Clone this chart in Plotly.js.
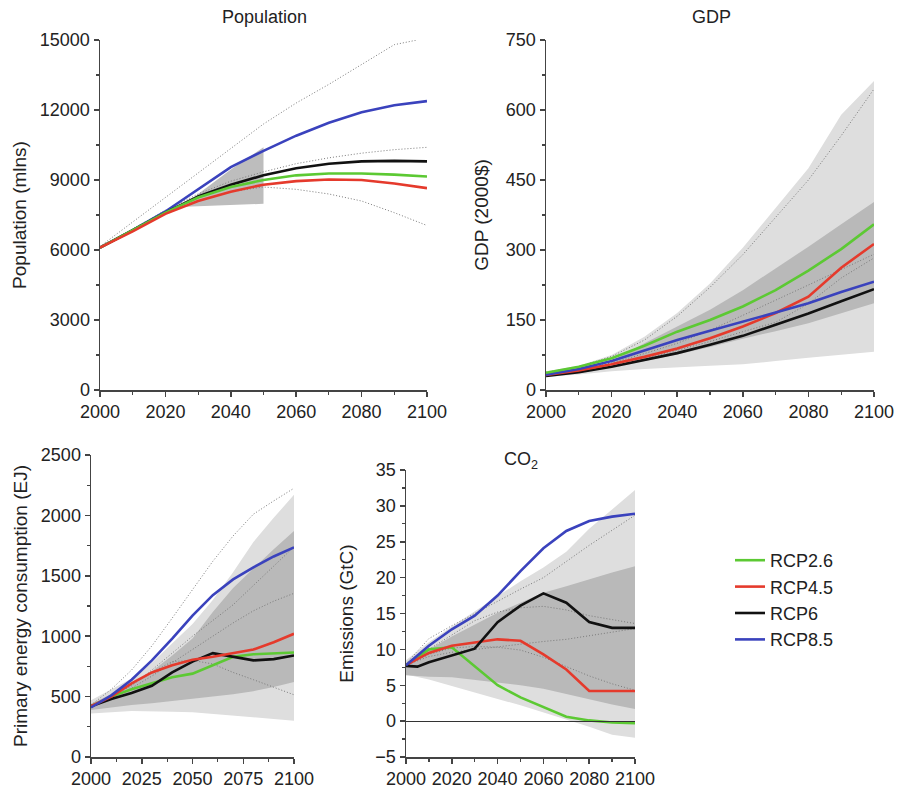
<!DOCTYPE html>
<html>
<head>
<meta charset="utf-8">
<script src="https://cdn.plot.ly/plotly-3.0.1.min.js"></script>
<style>
  html, body { margin: 0; padding: 0; background: #fff; }
  #chart { width: 899px; height: 789px; }
</style>
</head>
<body>
<div id="chart"></div>
<script>
// ---------------- DATA ----------------
const years = [2000, 2010, 2020, 2030, 2040, 2050, 2060, 2070, 2080, 2090, 2100];
const scenarioNames = ["RCP2.6", "RCP4.5", "RCP6", "RCP8.5"];

// Population (millions)
const pop26 = [6100, 6850, 7600, 8250, 8700, 9000, 9200, 9280, 9280, 9230, 9150];
const pop45 = [6100, 6800, 7550, 8100, 8500, 8800, 8950, 9020, 9000, 8850, 8650];
const pop60 = [6100, 6850, 7600, 8300, 8800, 9200, 9500, 9700, 9800, 9820, 9800];
const pop85 = [6100, 6850, 7650, 8600, 9550, 10250, 10900, 11450, 11900, 12200, 12380];
const popHighYears = [2000, 2010, 2020, 2030, 2040, 2050, 2060, 2070, 2080, 2090, 2097];
const popHigh = [6150, 7200, 8250, 9300, 10350, 11400, 12300, 13100, 13950, 14800, 15000];
const popMidHigh = [6100, 6900, 7700, 8400, 8950, 9350, 9700, 9950, 10150, 10300, 10400];
const popLow = [6100, 6850, 7550, 8100, 8500, 8700, 8600, 8400, 8100, 7600, 7050];
const popBandYears = [2026, 2030, 2040, 2050];
const popBandUpper = [7850, 8400, 9450, 10400];
const popBandLower = [7850, 7870, 7930, 7980];

// GDP (2000$)
const gdp26 = [37, 50, 68, 95, 125, 150, 179, 214, 256, 302, 355];
const gdp45 = [32, 42, 55, 71, 89, 111, 136, 165, 200, 262, 313];
const gdp60 = [30, 38, 50, 64, 79, 97, 116, 140, 164, 190, 216];
const gdp85 = [33, 45, 62, 84, 107, 127, 146, 166, 186, 210, 232];
const gdpLightUpper = [40, 52, 75, 114, 165, 228, 305, 390, 475, 590, 662];
const gdpLightLower = [28, 33, 40, 45, 49, 52, 55, 62, 69, 76, 82];
const gdpDarkYears = [2020, 2030, 2040, 2050, 2060, 2070, 2080, 2090, 2100];
const gdpDarkUpper = [62, 100, 136, 172, 214, 260, 307, 355, 403];
const gdpDarkLower = [52, 62, 76, 92, 110, 126, 143, 165, 186];
const gdpDotTop = [38, 50, 72, 107, 158, 220, 290, 370, 450, 545, 645];
const gdpDotA = [33, 44, 58, 78, 100, 128, 160, 192, 225, 258, 291];
const gdpDotB = [31, 40, 52, 67, 85, 104, 125, 145, 185, 240, 283];

// Primary energy consumption (EJ)
const en26 = [420, 500, 560, 610, 660, 690, 760, 830, 850, 860, 865];
const en45 = [420, 500, 610, 700, 760, 805, 830, 860, 890, 950, 1020];
const en60 = [420, 480, 530, 590, 700, 790, 860, 830, 800, 810, 840];
const en85 = [410, 510, 640, 800, 980, 1170, 1340, 1470, 1570, 1660, 1735];
const enLightUpper = [470, 560, 650, 780, 940, 1100, 1300, 1530, 1780, 1980, 2170];
const enLightLower = [360, 370, 380, 380, 375, 370, 360, 345, 330, 315, 300];
const enDarkUpper = [440, 520, 600, 710, 840, 980, 1200, 1400, 1560, 1720, 1870];
const enDarkLower = [390, 410, 430, 445, 460, 480, 500, 520, 545, 580, 620];
const enDot1 = [430, 560, 720, 920, 1150, 1390, 1620, 1830, 2010, 2120, 2225];
const enDot2 = [420, 500, 590, 720, 860, 1000, 1130, 1260, 1420, 1580, 1740];
const enDot3 = [420, 490, 570, 670, 780, 890, 1000, 1110, 1210, 1290, 1355];
const enDot4 = [420, 500, 600, 700, 790, 800, 770, 700, 640, 580, 515];

// CO2 emissions (GtC)
const co2Years60 = [2000, 2005, 2010, 2020, 2030, 2040, 2050, 2060, 2070, 2080, 2090, 2100];
const co2_26 = [7.8, 10.0, 10.3, 7.7, 5.0, 3.3, 1.9, 0.6, 0.1, -0.2, -0.3];
const co2_45 = [7.8, 9.5, 10.5, 11.0, 11.4, 11.2, 9.3, 7.2, 4.2, 4.2, 4.2];
const co2_60 = [7.7, 7.6, 8.2, 9.1, 10.1, 13.8, 16.1, 17.8, 16.5, 13.8, 13.0, 13.0];
const co2_85 = [7.8, 10.5, 12.8, 14.7, 17.5, 20.9, 24.1, 26.5, 27.9, 28.5, 28.9];
const co2LightUpper = [8.5, 11.0, 13.2, 15.3, 17.4, 19.5, 21.4, 23.6, 26.8, 29.5, 32.2];
const co2LightLower = [6.5, 5.8, 5.0, 4.0, 3.1, 2.2, 1.3, 0.2, -0.8, -1.9, -2.3];
const co2DarkUpper = [8.0, 10.0, 11.8, 13.5, 15.1, 16.5, 17.9, 18.8, 19.8, 20.7, 21.6];
const co2DarkLower = [6.4, 6.2, 6.1, 5.8, 5.4, 5.0, 4.5, 3.8, 3.0, 2.3, 1.7];
const co2DotA = [8.0, 11.5, 13.3, 15.0, 16.8, 18.4, 20.0, 22.3, 24.5, 26.6, 28.7];
const co2DotB = [8.0, 10.0, 12.0, 14.0, 15.2, 15.8, 16.0, 15.5, 14.7, 14.1, 13.6];
const co2DotC = [7.8, 9.0, 9.6, 10.0, 10.4, 10.8, 11.1, 11.4, 11.9, 12.4, 12.9];
const co2DotD = [7.8, 9.3, 10.2, 10.4, 10.3, 9.9, 8.9, 7.6, 6.3, 5.2, 4.3];

// ---------------- STYLE ----------------
const colors = {"RCP2.6": "#5cc933", "RCP4.5": "#e53a2c", "RCP6": "#111111", "RCP8.5": "#3a42bd"};
const LIGHT = "#dedede", DARK = "#b9b9b9", POPBAND = "#bdbdbd";
const FONT = "Liberation Sans, Arial, Helvetica, sans-serif";
const W = 899, H = 789;

function band(x, lo, hi, color, n) {
  return {
    x: x.concat(x.slice().reverse()),
    y: hi.concat(lo.slice().reverse()),
    xaxis: "x" + n, yaxis: "y" + n,
    type: "scatter", mode: "lines", fill: "toself", fillcolor: color,
    line: {width: 0, color: color}, hoverinfo: "skip", showlegend: false
  };
}
function dotted(x, y, n) {
  return {x: x, y: y, xaxis: "x" + n, yaxis: "y" + n, type: "scatter", mode: "lines",
    line: {color: "#7a7a7a", width: 1, dash: "1px,2px"}, hoverinfo: "skip", showlegend: false};
}
function series(x, y, name, n, legend) {
  return {x: x, y: y, xaxis: "x" + n, yaxis: "y" + n, type: "scatter", mode: "lines",
    name: name, line: {color: colors[name], width: 2.6}, showlegend: !!legend};
}

const traces = [];
// Population (1)
traces.push(band(popBandYears, popBandLower, popBandUpper, POPBAND, ""));
traces.push(dotted(popHighYears, popHigh, ""));
traces.push(dotted(years, popMidHigh, ""));
traces.push(dotted(years, popLow, ""));
traces.push(series(years, pop85, "RCP8.5", ""));
traces.push(series(years, pop60, "RCP6", ""));
traces.push(series(years, pop26, "RCP2.6", ""));
traces.push(series(years, pop45, "RCP4.5", ""));
// GDP (2)
traces.push(band(years, gdpLightLower, gdpLightUpper, LIGHT, 2));
traces.push(band(gdpDarkYears, gdpDarkLower, gdpDarkUpper, DARK, 2));
traces.push(dotted(years, gdpDotTop, 2));
traces.push(dotted(years, gdpDotA, 2));
traces.push(dotted(years, gdpDotB, 2));
traces.push(series(years, gdp60, "RCP6", 2));
traces.push(series(years, gdp45, "RCP4.5", 2));
traces.push(series(years, gdp85, "RCP8.5", 2));
traces.push(series(years, gdp26, "RCP2.6", 2));
// Energy (3)
traces.push(band(years, enLightLower, enLightUpper, LIGHT, 3));
traces.push(band(years, enDarkLower, enDarkUpper, DARK, 3));
traces.push(dotted(years, enDot1, 3));
traces.push(dotted(years, enDot2, 3));
traces.push(dotted(years, enDot3, 3));
traces.push(dotted(years, enDot4, 3));
traces.push(series(years, en26, "RCP2.6", 3));
traces.push(series(years, en60, "RCP6", 3));
traces.push(series(years, en45, "RCP4.5", 3));
traces.push(series(years, en85, "RCP8.5", 3));
// CO2 (4)
traces.push(band(years, co2LightLower, co2LightUpper, LIGHT, 4));
traces.push(band(years, co2DarkLower, co2DarkUpper, DARK, 4));
traces.push(dotted(years, co2DotA, 4));
traces.push(dotted(years, co2DotB, 4));
traces.push(dotted(years, co2DotC, 4));
traces.push(dotted(years, co2DotD, 4));
traces.push(series(years, co2_26, "RCP2.6", 4, true));
traces.push(series(years, co2_45, "RCP4.5", 4, true));
traces.push(series(co2Years60, co2_60, "RCP6", 4, true));
traces.push(series(years, co2_85, "RCP8.5", 4, true));

function px(x0, x1) { return [x0 / W, x1 / W]; }
function py(top, bottom) { return [1 - bottom / H, 1 - top / H]; }

function axis(domain, range, dtick, minorDtick, extra) {
  return Object.assign({
    domain: domain, range: range, dtick: dtick, tick0: range[0],
    showline: true, linecolor: "#444", linewidth: 1.5,
    ticks: "outside", ticklen: 5, tickwidth: 1.5, tickcolor: "#444",
    showgrid: false, zeroline: false, fixedrange: true,
    tickformat: "d", separatethousands: false,
    tickfont: {family: FONT, size: 18, color: "#222"},
    minor: {dtick: minorDtick, ticks: "outside", ticklen: 3, tickwidth: 1.2, tickcolor: "#444", showgrid: false}
  }, extra || {});
}
function ytitle(text, standoff) {
  return {title: {text: text, font: {family: FONT, size: 19, color: "#222"}, standoff: standoff}};
}

const layout = {
  width: W, height: H,
  margin: {l: 0, r: 0, t: 0, b: 0},
  paper_bgcolor: "#fff", plot_bgcolor: "rgba(0,0,0,0)",
  font: {family: FONT, color: "#222"},
  showlegend: true,
  legend: {x: 730 / W, y: 1 - 542 / H, xanchor: "left", yanchor: "top",
    font: {family: FONT, size: 18, color: "#222"}, bgcolor: "rgba(0,0,0,0)", tracegroupgap: 0},
  xaxis: axis(px(100, 427), [2000, 2100], 20, 10, {anchor: "y"}),
  yaxis: axis(py(40, 390), [0, 15000], 3000, 1500, Object.assign({anchor: "x"}, ytitle("Population (mlns)", 8))),
  xaxis2: axis(px(546, 874), [2000, 2100], 20, 10, {anchor: "y2"}),
  yaxis2: axis(py(40, 390), [0, 750], 150, 75, Object.assign({anchor: "x2"}, ytitle("GDP (2000$)", 12))),
  xaxis3: axis(px(91, 294), [2000, 2100], 25, 12.5, {anchor: "y3"}),
  yaxis3: axis(py(455, 757), [0, 2500], 500, 250, Object.assign({anchor: "x3"}, ytitle("Primary energy consumption (EJ)", 8))),
  xaxis4: axis(px(406, 635), [2000, 2100], 20, 10, {anchor: "y4"}),
  yaxis4: axis(py(470, 757), [-5, 35], 5, 2.5, Object.assign({anchor: "x4", zeroline: true, zerolinecolor: "#333", zerolinewidth: 1, zerolinelayer: "above traces"}, ytitle("Emissions (GtC)", 16))),
  annotations: [
    {text: "Population", x: 264 / W, y: 1 - 17 / H, xref: "paper", yref: "paper", showarrow: false,
      font: {family: FONT, size: 18, color: "#222"}, xanchor: "center", yanchor: "middle"},
    {text: "GDP", x: 711 / W, y: 1 - 17 / H, xref: "paper", yref: "paper", showarrow: false,
      font: {family: FONT, size: 18, color: "#222"}, xanchor: "center", yanchor: "middle"},
    {text: "CO<sub>2</sub>", x: 521 / W, y: 1 - 461 / H, xref: "paper", yref: "paper", showarrow: false,
      font: {family: FONT, size: 18, color: "#222"}, xanchor: "center", yanchor: "middle"}
  ]
};

Plotly.newPlot("chart", traces, layout, {displayModeBar: false, staticPlot: true});
</script>
</body>
</html>
